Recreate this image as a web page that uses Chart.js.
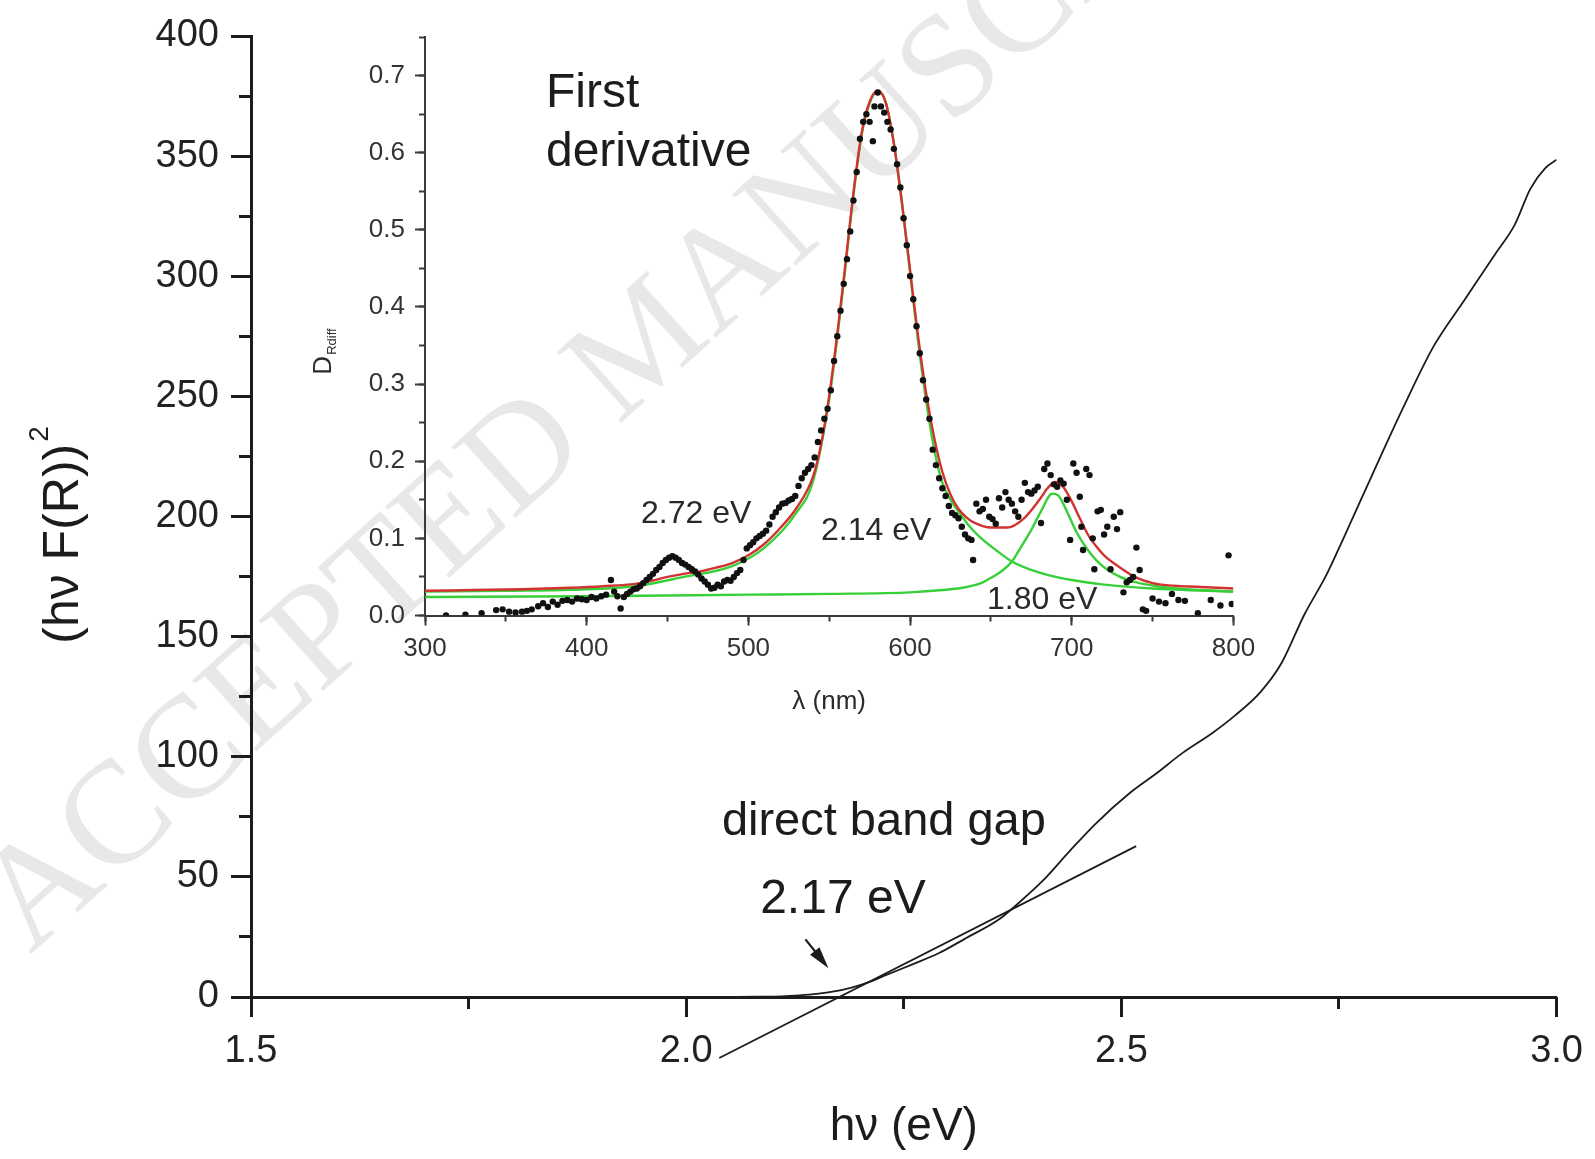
<!DOCTYPE html>
<html>
<head>
<meta charset="utf-8">
<script src="https://cdn.jsdelivr.net/npm/chart.js@4.4.1/dist/chart.umd.min.js"></script>
<style>
  html, body { margin: 0; padding: 0; background: #fff; }
  #wrap { position: relative; width: 1595px; height: 1159px; }
  #wrap canvas { position: absolute; left: 0; top: 0; }
</style>
</head>
<body>
<div id="wrap">
  <canvas id="main" width="1595" height="1159"></canvas>
  <canvas id="inset" width="1595" height="1159"></canvas>
</div>
<script>
// ---- main plot: (hv F(R))^2 against photon energy ----
const hvEnergy  = [2.05, 2.08, 2.11, 2.13, 2.15, 2.17, 2.19, 2.21, 2.23, 2.26, 2.29, 2.32, 2.36, 2.38, 2.41, 2.44, 2.47, 2.51, 2.54, 2.57, 2.605, 2.63, 2.66, 2.684, 2.71, 2.736, 2.754, 2.789, 2.824, 2.859, 2.894, 2.929, 2.952, 2.97, 2.987, 3.0];
const kmSquared = [0, 0.1, 0.3, 0.7, 1.3, 2.3, 3.9, 6.2, 9.2, 13.6, 18.2, 24.2, 32.5, 38.5, 48.5, 60.5, 72, 85, 93, 101.5, 110, 117, 127, 139, 159, 176, 190, 218, 245.5, 271, 290, 309, 321.5, 336.5, 345, 348.5];

// linear extrapolation to the band gap
const tangentHv  = [2.038, 2.517];
const tangentVal = [-25.4, 62.8];

const mainXTicks = [1.5, 2.0, 2.5, 3.0];
const mainYTicks = [0, 50, 100, 150, 200, 250, 300, 350, 400];

// ---- inset: first derivative of reflectance ----
const derivLambda = [313, 325, 335, 344, 348, 352, 356, 360, 363, 366, 370, 373, 376, 379, 382, 385, 388, 391, 394, 397,
  400, 403, 406, 409, 412, 415, 417, 419, 421, 423, 425, 427, 429, 431, 433, 435, 437, 439, 441, 443,
  445, 447, 449, 451, 453, 455, 457, 459, 461, 463, 465, 467, 469, 471, 473, 475, 477, 479, 481, 483,
  485, 487, 489, 491, 493, 495, 497, 499, 501, 503, 505, 507, 509, 511, 513, 515, 517, 519, 521, 523,
  525, 527, 529, 531, 533, 535, 537, 539, 541, 543, 545, 547, 549, 551, 553, 555, 557, 559, 561, 563,
  565, 567, 569, 571, 573, 575, 577, 578, 580, 582, 584, 586, 588, 590, 592, 594, 596, 598, 600, 602,
  604, 606, 608, 610, 612, 614, 616, 618, 620, 622, 624, 626, 628, 630, 632, 634, 636, 638, 639, 641,
  643, 645, 647, 649, 651, 653, 655, 657, 659, 661, 663, 665, 667, 669, 671, 673, 675, 677, 679, 681,
  683, 685, 687, 689, 691, 693, 695, 697, 699, 701, 703, 705, 706, 707, 709, 711, 713, 714, 716, 718,
  720, 722, 724, 726, 728, 730, 732, 734, 736, 738, 740, 742, 744, 746, 750, 754, 758, 762, 766, 770,
  778, 786, 792, 797, 799];
const derivValue = [0.000, 0.001, 0.003, 0.007, 0.008, 0.005, 0.004, 0.005, 0.006, 0.008, 0.012, 0.016, 0.011, 0.018, 0.014, 0.019, 0.020, 0.018, 0.022, 0.021,
  0.020, 0.024, 0.022, 0.025, 0.027, 0.046, 0.031, 0.025, 0.009, 0.024, 0.028, 0.031, 0.034, 0.035, 0.038, 0.042, 0.046, 0.050, 0.054, 0.059,
  0.063, 0.068, 0.072, 0.075, 0.077, 0.075, 0.072, 0.068, 0.066, 0.063, 0.060, 0.057, 0.053, 0.048, 0.044, 0.040, 0.035, 0.036, 0.040, 0.038,
  0.044, 0.046, 0.045, 0.050, 0.055, 0.059, 0.072, 0.087, 0.091, 0.095, 0.100, 0.103, 0.106, 0.110, 0.118, 0.128, 0.134, 0.140, 0.145, 0.146,
  0.149, 0.151, 0.155, 0.168, 0.178, 0.185, 0.190, 0.195, 0.205, 0.225, 0.240, 0.255, 0.268, 0.292, 0.330, 0.362, 0.395, 0.430, 0.462, 0.498,
  0.538, 0.575, 0.618, 0.640, 0.650, 0.640, 0.615, 0.660, 0.678, 0.660, 0.652, 0.640, 0.630, 0.605, 0.585, 0.555, 0.515, 0.480, 0.440, 0.410,
  0.375, 0.340, 0.305, 0.280, 0.255, 0.215, 0.195, 0.178, 0.165, 0.155, 0.142, 0.133, 0.130, 0.126, 0.115, 0.105, 0.100, 0.098, 0.072, 0.145,
  0.135, 0.138, 0.150, 0.128, 0.125, 0.119, 0.152, 0.140, 0.160, 0.150, 0.145, 0.135, 0.128, 0.150, 0.172, 0.160, 0.158, 0.162, 0.167, 0.120,
  0.190, 0.197, 0.182, 0.170, 0.167, 0.175, 0.171, 0.150, 0.098, 0.197, 0.185, 0.154, 0.115, 0.085, 0.190, 0.182, 0.100, 0.060, 0.135, 0.137,
  0.105, 0.115, 0.060, 0.128, 0.112, 0.134, 0.030, 0.043, 0.046, 0.050, 0.088, 0.059, 0.008, 0.006, 0.022, 0.018, 0.016, 0.028, 0.020, 0.019,
  0.003, 0.020, 0.013, 0.078, 0.015];

// cumulative fit (red)
const fitLambda = [300, 330, 360, 390, 410, 430, 440, 450, 460, 470, 480, 490, 500, 510, 520, 530, 540, 545, 550, 555,
  560, 565, 570, 575, 580, 585, 590, 595, 600, 605, 610, 615, 620, 625, 630, 635, 640, 650, 660, 670,
  680, 685, 690, 695, 700, 705, 710, 715, 720, 730, 740, 750, 760, 780, 800];
const fitTotal = [0.032, 0.033, 0.034, 0.036, 0.038, 0.041, 0.045, 0.050, 0.054, 0.057, 0.062, 0.068, 0.078, 0.093, 0.114, 0.140, 0.180, 0.222, 0.285, 0.365,
  0.455, 0.548, 0.625, 0.666, 0.680, 0.665, 0.612, 0.535, 0.448, 0.362, 0.288, 0.230, 0.186, 0.157, 0.138, 0.127, 0.120, 0.114, 0.114, 0.125,
  0.150, 0.165, 0.173, 0.166, 0.148, 0.126, 0.105, 0.090, 0.078, 0.062, 0.049, 0.042, 0.039, 0.037, 0.035];

// fitted component at 2.14 eV (green, mostly hidden under the red fit)
const peak214Lambda = [300, 350, 400, 430, 460, 490, 510, 530, 540, 550, 555, 560, 565, 570, 575, 580, 585, 590, 595, 600,
  605, 610, 615, 620, 625, 631, 637, 643, 653, 663, 675, 686, 700, 720, 750, 800];
const peak214Value = [0.031, 0.032, 0.034, 0.038, 0.050, 0.064, 0.088, 0.134, 0.174, 0.280, 0.360, 0.451, 0.545, 0.622, 0.664, 0.680, 0.665, 0.612, 0.535, 0.445,
  0.355, 0.278, 0.215, 0.172, 0.150, 0.132, 0.115, 0.102, 0.085, 0.070, 0.059, 0.052, 0.046, 0.040, 0.035, 0.031];

// fitted component at 1.80 eV (green)
const peak180Lambda = [300, 400, 500, 550, 600, 620, 635, 645, 651, 657, 663, 669, 675, 681, 688, 692, 697, 703, 710, 718, 730, 740, 760, 780, 800];
const peak180Value = [0.024, 0.025, 0.027, 0.028, 0.030, 0.033, 0.037, 0.043, 0.050, 0.058, 0.070, 0.090, 0.111, 0.135, 0.158, 0.155, 0.135, 0.108, 0.085, 0.066, 0.050, 0.043, 0.036, 0.033, 0.031];

const FONT = '"Liberation Sans", Arial, Helvetica, sans-serif';
const INK = '#1c1c1c';

const toPoints = (xs, ys) => xs.map((x, i) => ({ x, y: ys[i] }));

// ------------------------------------------------------------
//  main chart
// ------------------------------------------------------------
const watermark = {
    id: 'watermark',
    beforeDraw(chart) {
        const ctx = chart.ctx;
        ctx.save();
        ctx.translate(30, 955);
        ctx.rotate(-42 * Math.PI / 180);
        ctx.font = '146px "Liberation Serif", "Times New Roman", serif';
        ctx.fillStyle = '#e8e8e8';
        ctx.textBaseline = 'alphabetic';
        ctx.fillText('ACCEPTED MANUSCRIPT', 0, 0);
        ctx.restore();
    },
};

const mainTexts = {
    id: 'mainTexts',
    afterDraw(chart) {
        const { ctx, chartArea, scales } = chart;
        const px = v => scales.x.getPixelForValue(v);
        const py = v => scales.y.getPixelForValue(v);
        ctx.save();
        ctx.fillStyle = INK;
        ctx.textBaseline = 'middle';
        ctx.textAlign = 'left';
        ctx.font = `47px ${FONT}`;
        ctx.fillText('direct band gap', px(2.041), py(72.8));
        ctx.font = `48px ${FONT}`;
        ctx.fillText('2.17 eV', px(2.085), py(40.4));

        // arrow pointing at the intercept
        const x1 = px(2.137), y1 = py(24.0), x2 = px(2.1635), y2 = py(12.0);
        const ang = Math.atan2(y2 - y1, x2 - x1);
        const c = Math.cos(ang), s = Math.sin(ang);
        ctx.strokeStyle = INK;
        ctx.lineWidth = 2.2;
        ctx.beginPath();
        ctx.moveTo(x1, y1);
        ctx.lineTo(x2 - 14 * c, y2 - 14 * s);
        ctx.stroke();
        ctx.beginPath();
        ctx.moveTo(x2, y2);
        ctx.lineTo(x2 - 22 * c + 6 * s, y2 - 22 * s - 6 * c);
        ctx.lineTo(x2 - 22 * c - 6 * s, y2 - 22 * s + 6 * c);
        ctx.closePath();
        ctx.fill();

        // x title
        ctx.textAlign = 'center';
        ctx.font = `46px ${FONT}`;
        ctx.fillText('h\u03bd (eV)', (chartArea.left + chartArea.right) / 2, 1127);

        // y title with superscript
        ctx.translate(78, 536);
        ctx.rotate(-Math.PI / 2);
        ctx.textBaseline = 'alphabetic';
        ctx.textAlign = 'left';
        ctx.font = `50px ${FONT}`;
        const body = '(h\u03bd F(R))';
        const w1 = ctx.measureText(body).width;
        ctx.font = `28px ${FONT}`;
        const w2 = ctx.measureText('2').width;
        const start = -(w1 + w2) / 2;
        ctx.font = `50px ${FONT}`;
        ctx.fillText(body, start, 0);
        ctx.font = `28px ${FONT}`;
        ctx.fillText('2', start + w1 + 2, -30);
        ctx.restore();
    },
};

new Chart(document.getElementById('main'), {
    type: 'scatter',
    data: {
        datasets: [
            {
                label: '(hv F(R))^2',
                data: toPoints(hvEnergy, kmSquared),
                showLine: true,
                borderColor: INK,
                borderWidth: 1.8,
                pointRadius: 0,
                cubicInterpolationMode: 'monotone',
            },
            {
                label: 'tangent',
                data: toPoints(tangentHv, tangentVal),
                showLine: true,
                borderColor: INK,
                borderWidth: 1.8,
                pointRadius: 0,
                clip: false,
            },
        ],
    },
    options: {
        responsive: false,
        animation: false,
        devicePixelRatio: 1,
        layout: { padding: { top: 36, right: 38, left: 0, bottom: 0 } },
        plugins: { legend: { display: false }, tooltip: { enabled: false } },
        scales: {
            x: {
                type: 'linear', position: 'bottom', weight: 1,
                min: 1.5, max: 3.0,
                border: { color: INK, width: 3 },
                grid: { drawOnChartArea: false, tickLength: 20, tickWidth: 3, tickColor: INK },
                afterBuildTicks: s => { s.ticks = mainXTicks.map(value => ({ value })); },
                ticks: {
                    color: '#222', padding: 12, maxRotation: 0,
                    font: { family: FONT, size: 38 },
                    callback: v => Number(v).toFixed(1),
                },
                afterFit: s => { s.height = 162; },
            },
            xMinor: {
                type: 'linear', position: 'bottom', weight: 0,
                min: 1.5, max: 3.0,
                border: { display: false },
                grid: { drawOnChartArea: false, tickLength: 12, tickWidth: 3, tickColor: INK },
                ticks: { stepSize: 0.25, display: false },
                afterFit: s => { s.height = 0; },
            },
            y: {
                type: 'linear', position: 'left', weight: 1,
                min: 0, max: 400,
                border: { color: INK, width: 3 },
                grid: { drawOnChartArea: false, tickLength: 20, tickWidth: 3, tickColor: INK },
                afterBuildTicks: s => { s.ticks = mainYTicks.map(value => ({ value })); },
                ticks: { color: '#222', padding: 12, font: { family: FONT, size: 38 } },
                afterFit: s => { s.width = 251; },
            },
            yMinor: {
                type: 'linear', position: 'left', weight: 0,
                min: 0, max: 400,
                border: { display: false },
                grid: { drawOnChartArea: false, tickLength: 12, tickWidth: 3, tickColor: INK },
                ticks: { stepSize: 25, display: false },
                afterFit: s => { s.width = 0; },
            },
        },
    },
    plugins: [watermark, mainTexts],
});

// ------------------------------------------------------------
//  inset chart
// ------------------------------------------------------------
const INSET_INK = '#3a3a3a';
const RED = '#d23232';
const GREEN = '#38d038';

const insetTexts = {
    id: 'insetTexts',
    afterDraw(chart) {
        const { ctx, chartArea, scales } = chart;
        const px = v => scales.x.getPixelForValue(v);
        const py = v => scales.y.getPixelForValue(v);
        ctx.save();
        ctx.fillStyle = '#1c1c1c';
        ctx.textBaseline = 'middle';
        ctx.textAlign = 'left';
        ctx.font = `48px ${FONT}`;
        ctx.fillText('First', px(374.8), py(0.676));
        ctx.fillText('derivative', px(374.8), py(0.600));

        ctx.fillStyle = '#2a2a2a';
        ctx.font = `32px ${FONT}`;
        ctx.fillText('2.72 eV', px(433.6), py(0.1315));
        ctx.fillText('2.14 eV', px(544.9), py(0.1095));
        ctx.fillText('1.80 eV', px(647.6), py(0.020));

        // x title
        ctx.textAlign = 'center';
        ctx.font = `26px ${FONT}`;
        ctx.fillText('\u03bb (nm)', (chartArea.left + chartArea.right) / 2, 702);

        // y title: D with subscript
        ctx.translate(331, 352);
        ctx.rotate(-Math.PI / 2);
        ctx.textBaseline = 'alphabetic';
        ctx.textAlign = 'left';
        ctx.font = `26px ${FONT}`;
        const wD = ctx.measureText('D').width;
        ctx.font = `13px ${FONT}`;
        const wS = ctx.measureText('Rdiff').width;
        const start = -(wD + wS) / 2;
        ctx.font = `26px ${FONT}`;
        ctx.fillText('D', start, 0);
        ctx.font = `13px ${FONT}`;
        ctx.fillText('Rdiff', start + wD + 1, 5);
        ctx.restore();
    },
};

new Chart(document.getElementById('inset'), {
    type: 'scatter',
    data: {
        datasets: [
            {
                label: 'data',
                data: toPoints(derivLambda, derivValue),
                pointRadius: 3.2,
                pointBackgroundColor: '#111',
                pointBorderWidth: 0,
                order: 0,
            },
            {
                label: 'fit',
                data: toPoints(fitLambda, fitTotal),
                showLine: true,
                borderColor: RED,
                borderWidth: 2.4,
                pointRadius: 0,
                cubicInterpolationMode: 'monotone',
                order: 1,
            },
            {
                label: '2.14 eV',
                data: toPoints(peak214Lambda, peak214Value),
                showLine: true,
                borderColor: GREEN,
                borderWidth: 2.4,
                pointRadius: 0,
                cubicInterpolationMode: 'monotone',
                order: 2,
            },
            {
                label: '1.80 eV',
                data: toPoints(peak180Lambda, peak180Value),
                showLine: true,
                borderColor: GREEN,
                borderWidth: 2.4,
                pointRadius: 0,
                cubicInterpolationMode: 'monotone',
                order: 3,
            },
        ],
    },
    options: {
        responsive: false,
        animation: false,
        devicePixelRatio: 1,
        layout: { padding: { top: 37, right: 361.6, left: 0, bottom: 0 } },
        plugins: { legend: { display: false }, tooltip: { enabled: false } },
        scales: {
            x: {
                type: 'linear', position: 'bottom', weight: 1,
                min: 300, max: 800,
                border: { color: INSET_INK, width: 2 },
                grid: { drawOnChartArea: false, tickLength: 10, tickWidth: 2, tickColor: INSET_INK },
                ticks: { stepSize: 100, color: '#333', padding: 8, maxRotation: 0, font: { family: FONT, size: 26 } },
                afterFit: s => { s.height = 1159 - 615.5; },
            },
            xMinor: {
                type: 'linear', position: 'bottom', weight: 0,
                min: 300, max: 800,
                border: { display: false },
                grid: { drawOnChartArea: false, tickLength: 6, tickWidth: 2, tickColor: INSET_INK },
                ticks: { stepSize: 50, display: false },
                afterFit: s => { s.height = 0; },
            },
            y: {
                type: 'linear', position: 'left', weight: 1,
                min: 0, max: 0.75,
                border: { color: INSET_INK, width: 2 },
                grid: { drawOnChartArea: false, tickLength: 10, tickWidth: 2, tickColor: INSET_INK },
                ticks: {
                    stepSize: 0.1, includeBounds: false, color: '#333', padding: 10,
                    font: { family: FONT, size: 26 },
                    callback: v => Number(v).toFixed(1),
                },
                afterFit: s => { s.width = 425; },
            },
            yMinor: {
                type: 'linear', position: 'left', weight: 0,
                min: 0, max: 0.75,
                border: { display: false },
                grid: { drawOnChartArea: false, tickLength: 6, tickWidth: 2, tickColor: INSET_INK },
                ticks: { stepSize: 0.05, display: false },
                afterFit: s => { s.width = 0; },
            },
        },
    },
    plugins: [insetTexts],
});
</script>
</body>
</html>
